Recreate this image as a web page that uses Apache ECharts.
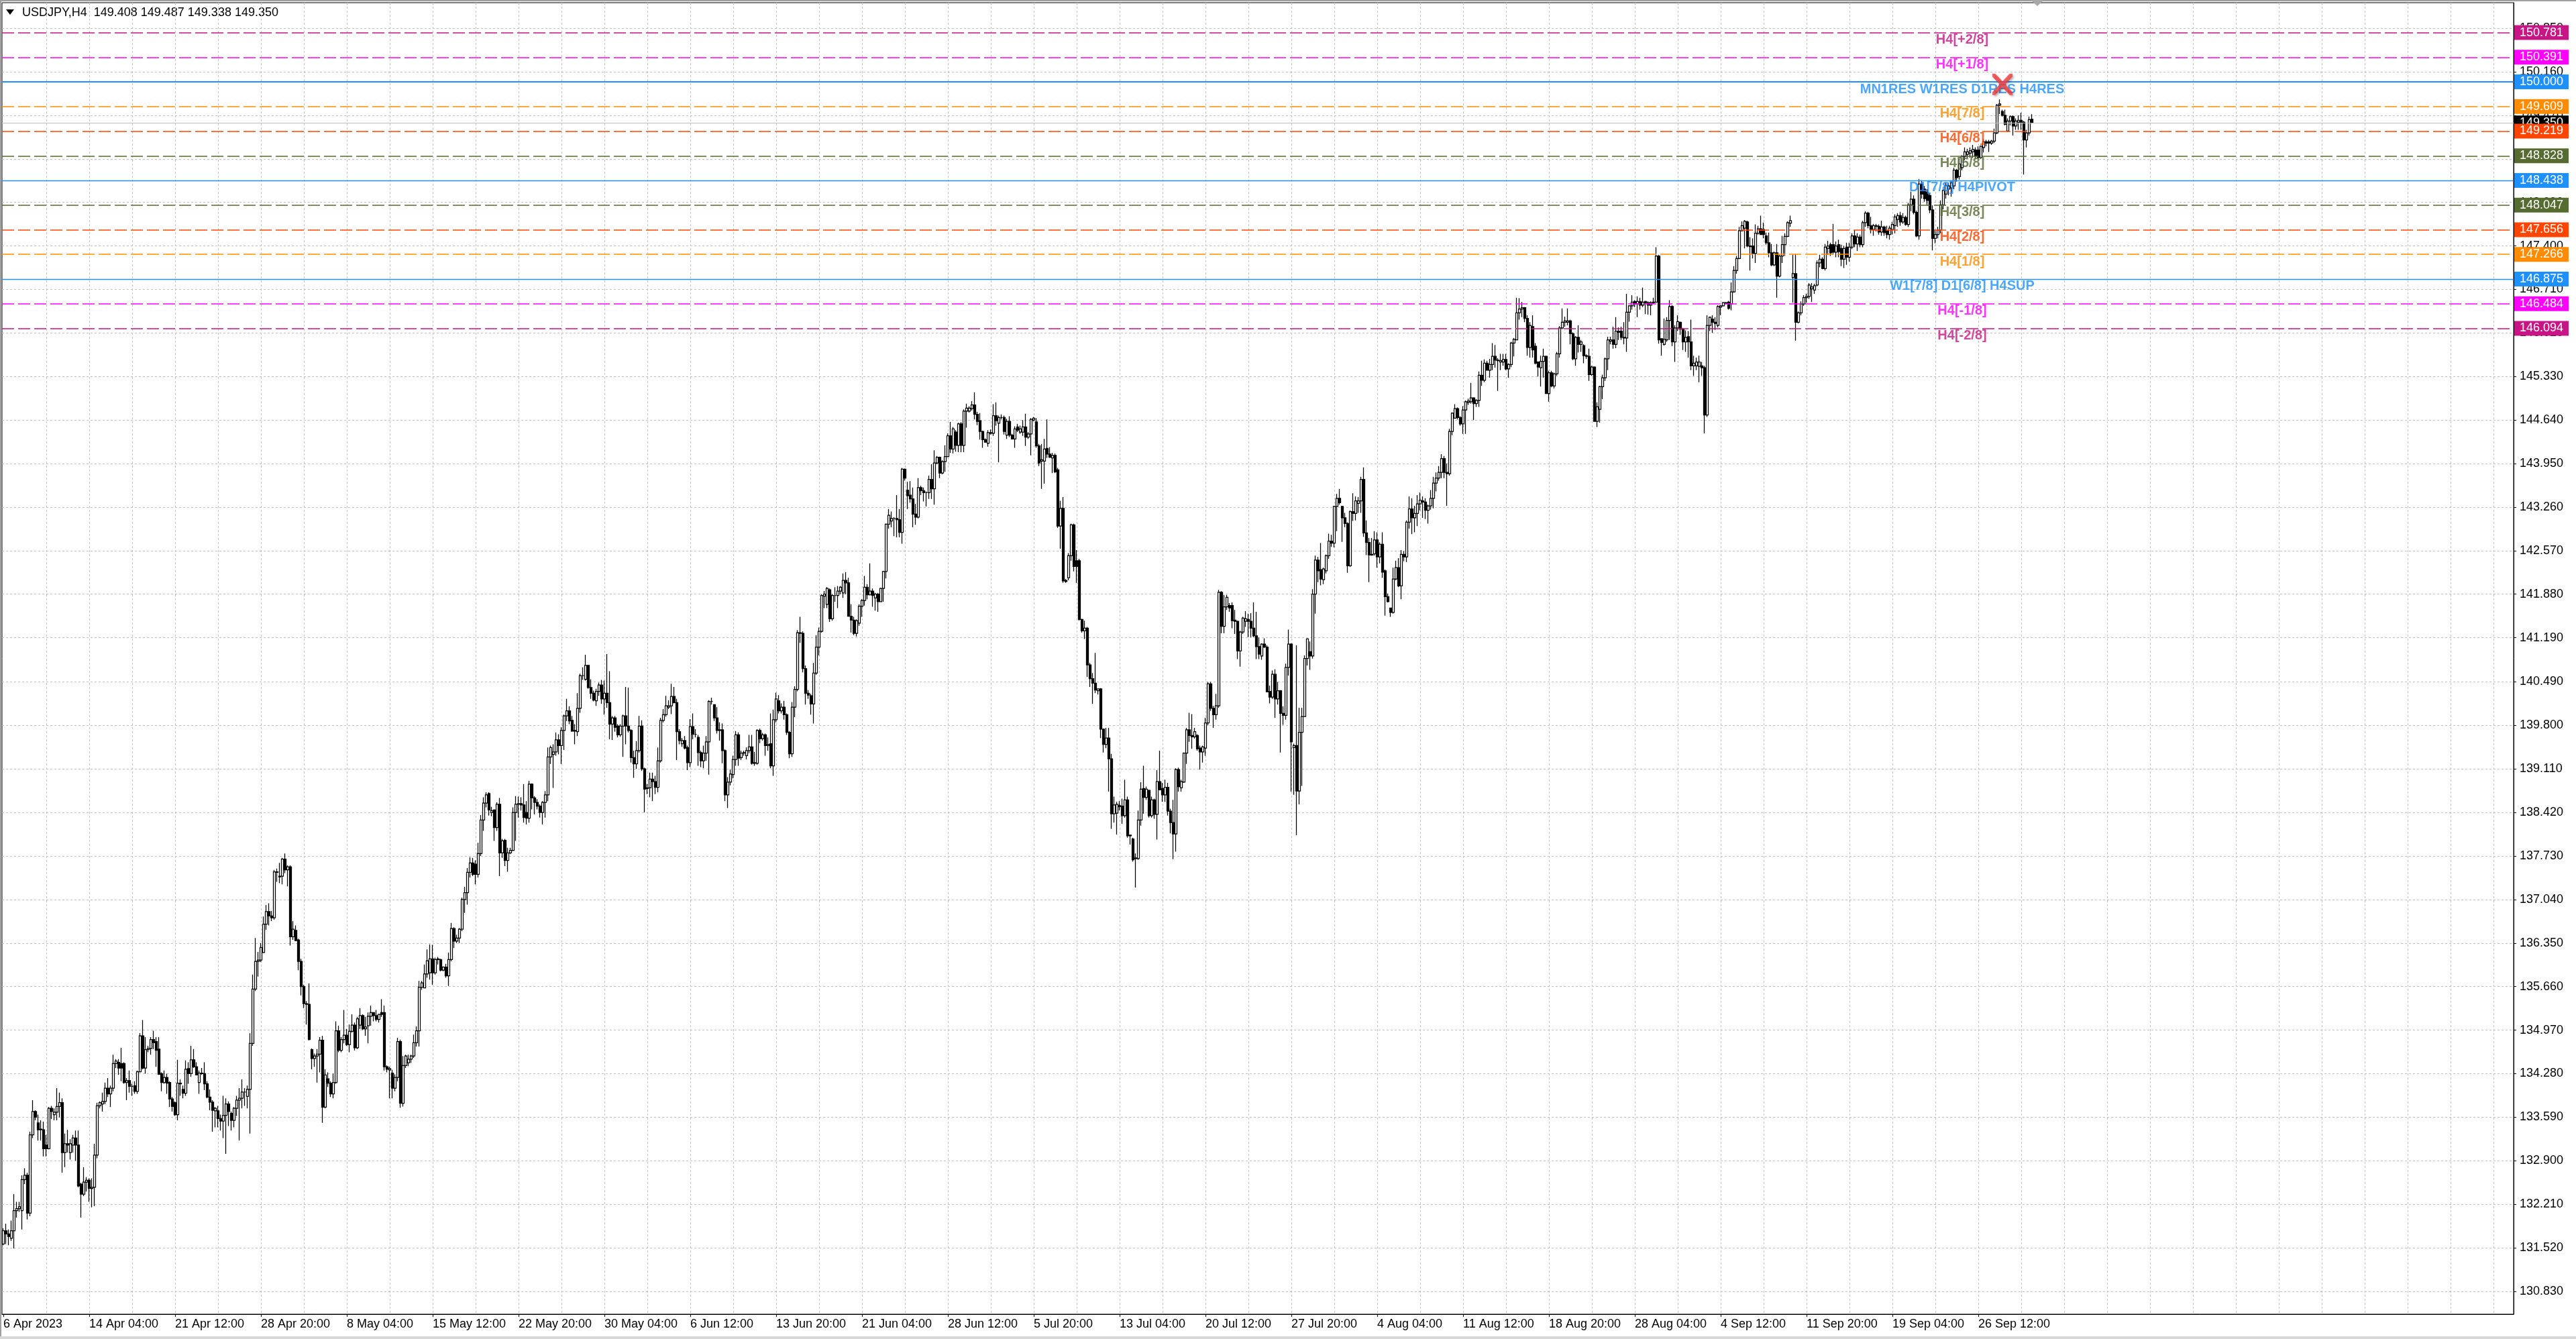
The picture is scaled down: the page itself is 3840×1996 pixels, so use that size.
<!DOCTYPE html>
<html><head><meta charset="utf-8">
<script src="https://cdn.jsdelivr.net/npm/echarts@6.0.0/dist/echarts.min.js"></script>
<style>html,body{margin:0;padding:0;background:#fff;}#chart{width:3840px;height:1996px;}</style>
</head><body><div id="chart"></div>
<script>
// ---------- DATA ----------
const symbolName = 'USDJPY';
const timeframe = 'H4';
// H4 bars, rows are [open, high, low, close]
const barsApr = [
[131.58,131.83,131.56,131.79],[131.79,131.90,131.58,131.74],[131.74,131.81,131.56,131.70],[131.67,131.95,131.63,131.79],[131.79,132.37,131.51,132.11],
[132.11,132.25,132.00,132.14],[132.14,132.25,132.09,132.17],[132.11,132.67,131.81,132.60],[132.60,132.78,132.53,132.67],[132.67,132.71,131.97,132.07],
[132.07,133.36,132.02,133.31],[133.31,133.86,133.26,133.68],[133.68,133.70,133.54,133.59],[133.50,133.63,133.22,133.39],[133.39,133.54,133.22,133.40],
[133.39,133.52,132.97,133.09],[133.15,133.31,132.97,133.09],[133.09,133.75,133.08,133.73],[133.73,133.77,133.56,133.68],[133.63,133.73,133.54,133.67],
[133.67,134.05,133.54,133.76],[133.76,133.98,133.59,133.82],[133.82,133.89,132.71,133.03],[133.03,133.33,132.80,133.17],[133.17,133.39,133.03,133.15],
[133.03,133.24,132.92,133.17],[133.15,133.31,133.03,133.26],[133.26,133.38,132.90,133.15],[133.15,133.38,132.48,132.50],[132.53,132.55,132.00,132.37],
[132.37,132.80,132.34,132.56],[132.56,132.64,132.41,132.59],[132.59,132.62,132.25,132.46],[132.46,132.62,132.16,132.48],[132.48,133.17,132.18,132.99],
[132.99,133.82,132.94,133.77],[133.77,133.84,133.73,133.82],[133.80,133.98,133.68,133.84],[133.84,134.14,133.80,134.05],[134.05,134.21,133.91,133.96],
[133.96,134.09,133.75,134.05],[134.05,134.58,134.00,134.44],[134.44,134.51,134.37,134.48],[134.46,134.51,134.26,134.37],[134.44,134.69,134.16,134.37],
[134.44,134.46,134.12,134.14],[134.14,134.21,133.86,134.17],[134.17,134.33,133.98,134.08],[134.08,134.12,133.93,134.08],[134.09,134.16,133.96,134.00],
[134.00,134.33,133.96,134.31],[134.31,134.92,134.30,134.88],[134.88,135.13,134.35,134.37],[134.37,134.86,134.28,134.66],[134.66,134.72,134.62,134.68],
[134.68,134.86,134.58,134.82],[134.82,134.96,134.67,134.77],[134.79,134.86,134.39,134.65],[134.67,134.86,134.26,134.27],[134.28,134.30,134.00,134.14],
[134.14,134.33,134.12,134.22],[134.22,134.28,133.96,134.13],[134.14,134.16,133.75,133.88],[133.88,133.91,133.68,133.76],[133.82,133.84,133.61,133.63],
[133.63,134.50,133.54,134.13],[134.13,134.19,133.93,134.12],[134.03,134.09,133.89,133.97],[133.97,134.49,133.93,134.35],[134.36,134.46,134.12,134.28],
[134.28,134.72,134.23,134.50],[134.50,134.67,134.37,134.39],[134.39,134.46,134.26,134.26],[134.14,134.33,133.96,134.29],[134.29,134.37,134.26,134.28],
[134.28,134.46,134.02,134.12],[134.12,134.16,133.89,133.91],[133.91,134.03,133.70,133.83],[133.83,133.86,133.36,133.70],[133.69,133.75,133.43,133.73],
[133.69,133.77,133.43,133.57],[133.57,133.63,133.38,133.53],[133.53,133.93,133.26,133.62],[133.62,133.89,133.01,133.80],[133.80,133.84,133.45,133.68],
[133.65,133.68,133.38,133.54],[133.54,133.75,133.43,133.73],[133.73,133.93,133.61,133.86],[133.86,134.05,133.22,133.89],[133.89,134.19,133.73,133.99],
[133.99,134.05,133.77,133.99],[133.92,134.09,133.73,134.03],[134.03,134.92,133.33,134.76],[134.76,135.85,134.72,135.62],[135.62,136.43,135.59,136.06],
[136.06,136.21,135.82,136.08],[136.08,136.35,136.05,136.28]
];
const barsMay = [
[136.20,136.77,136.19,136.65],[136.65,136.95,136.56,136.85],[136.85,136.98,136.63,136.78],[136.78,136.86,136.70,136.75],[136.75,137.51,136.72,137.48],
[137.48,137.53,137.32,137.47],[137.41,137.62,137.30,137.40],[137.41,137.70,137.28,137.68],[137.68,137.77,137.46,137.51],[137.51,137.58,137.25,137.56],
[137.56,137.58,136.31,136.45],[136.45,136.70,136.40,136.57],[136.55,136.63,136.38,136.39],[136.40,136.42,135.92,136.06],[136.06,136.10,135.52,135.66],
[135.66,135.69,135.32,135.39],[135.39,135.43,135.06,135.38],[135.38,135.71,134.81,134.82],[134.66,134.68,134.35,134.52],[134.52,134.60,134.39,134.56],
[134.56,134.67,134.14,134.59],[134.59,134.86,134.30,134.81],[134.81,134.88,133.50,133.75],[133.75,134.35,133.73,134.26],[134.20,134.30,134.07,134.13],
[134.13,134.16,133.91,133.96],[133.96,134.28,133.89,134.14],[134.14,135.11,134.12,134.96],[134.96,135.04,134.62,134.65],[134.65,134.86,134.62,134.82],
[134.82,135.29,134.76,134.89],[134.89,134.99,134.72,134.74],[134.74,135.06,134.62,134.95],[134.95,135.22,134.93,135.05],[135.05,135.09,134.65,134.69],
[134.69,135.18,134.67,135.15],[135.05,135.32,134.99,135.20],[135.20,135.22,134.97,134.99],[134.99,135.18,134.88,135.02],[135.04,135.25,134.76,135.19],
[135.19,135.36,135.04,135.25],[135.25,135.25,135.11,135.20],[135.20,135.29,135.11,135.14],[135.14,135.23,135.09,135.22],[135.25,135.46,135.18,135.22],
[135.25,135.36,134.33,134.39],[134.39,134.41,134.30,134.35],[134.34,134.39,133.89,134.36],[134.29,134.34,133.89,134.05],[134.05,134.27,134.00,134.22],
[134.22,134.85,134.16,134.79],[134.79,134.82,133.74,133.81],[133.81,134.56,133.76,134.41],[134.41,134.58,134.37,134.56],[134.45,134.58,134.40,134.51],
[134.51,134.58,134.45,134.56],[134.56,134.90,134.53,134.77],[134.77,135.03,134.71,134.96],[134.96,135.75,134.71,135.65],[135.65,135.75,135.61,135.72],
[135.64,136.01,135.64,135.86],[135.86,136.25,135.80,136.07],[135.88,136.33,135.77,136.10],[136.10,136.32,135.69,135.88],[135.88,136.12,135.85,136.09],
[136.10,136.13,136.01,136.09],[136.09,136.10,135.90,135.92],[135.92,135.98,135.90,135.97],[135.97,136.02,135.80,135.83],[135.83,136.20,135.67,136.09],
[136.09,136.67,136.06,136.58],[136.58,136.60,136.27,136.38],[136.38,136.48,136.35,136.43],[136.43,136.59,136.35,136.57],[136.57,137.07,136.54,137.04],
[137.04,137.24,136.83,137.15],[137.15,137.54,136.96,137.47],[137.47,137.71,137.39,137.62],[137.62,137.70,137.41,137.44],[137.60,137.66,137.28,137.44],
[137.44,137.94,137.39,137.77],[137.77,138.38,137.73,138.30],[138.30,138.66,138.13,138.57],[138.57,138.74,138.50,138.70],[138.72,138.74,138.37,138.46],
[138.42,138.51,138.36,138.45],[138.46,138.47,137.97,138.18],[138.18,138.58,138.13,138.55],[138.55,138.65,137.41,137.78],[137.78,138.00,137.70,137.97],
[137.98,138.00,137.57,137.66],[137.66,137.86,137.48,137.78],[137.78,137.86,137.76,137.82],[137.82,138.50,137.81,138.42],[138.42,138.68,137.97,138.55],
[138.55,138.67,138.34,138.56],[138.56,138.66,138.45,138.54],[138.54,138.87,138.26,138.34],[138.42,138.60,138.23,138.33],[138.33,138.92,138.26,138.87],
[138.87,138.88,138.47,138.65],[138.65,138.68,138.39,138.58],[138.58,138.63,138.47,138.52],[138.52,138.55,138.34,138.42],[138.42,138.60,138.23,138.58],
[138.58,138.76,138.34,138.70],[138.70,139.45,138.60,139.30],[139.30,139.48,139.19,139.45],[139.34,139.50,138.81,139.38],[139.38,139.69,139.32,139.57],
[139.57,139.66,139.34,139.48],[139.48,139.77,139.19,139.72],[139.72,139.97,139.41,139.95],[139.95,140.22,139.87,140.03],[140.03,140.10,139.82,139.87],
[139.88,139.95,139.70,139.71],[139.71,139.82,139.50,139.72],[139.70,140.31,139.63,140.07],[140.07,140.62,140.00,140.59],[140.59,140.72,140.52,140.59],
[140.53,140.92,140.51,140.75],[140.75,140.76,140.38,140.40],[140.40,140.53,140.22,140.31],[140.31,140.35,140.18,140.20],[140.19,140.38,140.11,140.34],
[140.34,140.48,140.27,140.44],[140.44,140.52,140.14,140.22],[140.22,140.51,139.97,140.31],[140.31,140.93,140.08,140.16],[140.16,140.66,139.58,139.82],
[139.82,139.95,139.57,139.92],[139.92,139.95,139.70,139.77],[139.79,139.82,139.61,139.65],[139.65,139.82,139.62,139.79],[139.79,139.97,139.30,139.95],
[139.95,140.41,139.50,139.79],[139.79,140.40,139.69,139.72],[139.72,139.74,139.21,139.29]
];
const barsJun = [
[139.29,139.40,138.97,139.19],[139.19,139.55,139.11,139.40],[139.40,139.95,139.37,139.79],[139.79,139.88,139.08,139.11],[139.11,139.13,138.42,138.79],
[138.80,138.87,138.71,138.81],[138.81,139.05,138.66,138.95],[138.95,139.05,138.60,138.91],[138.91,139.00,138.71,138.82],[138.82,139.45,138.74,139.24],
[139.24,139.92,139.21,139.88],[139.88,140.06,139.85,139.97],[139.97,140.27,139.94,140.11],[140.09,140.20,140.06,140.11],[140.11,140.46,139.98,140.26],
[140.26,140.41,140.15,140.16],[140.16,140.22,139.25,139.70],[139.70,139.74,139.50,139.56],[139.51,139.60,139.46,139.56],[139.56,139.63,139.42,139.44],
[139.45,139.48,139.09,139.21],[139.21,139.90,139.14,139.78],[139.78,139.99,139.58,139.66],[139.66,139.74,139.61,139.66],[139.61,139.65,139.16,139.37],
[139.37,139.40,139.14,139.24],[139.24,139.48,139.12,139.36],[139.36,139.63,139.24,139.54],[139.54,140.20,139.02,140.18],[140.18,140.24,140.13,140.18],
[140.13,140.13,139.87,139.92],[139.92,140.09,139.67,139.72],[139.72,139.85,139.56,139.73],[139.73,139.83,139.20,139.40],[139.40,139.42,138.60,138.70],
[138.70,138.98,138.49,138.90],[138.90,139.10,138.85,139.03],[139.02,139.32,138.96,139.26],[139.26,139.71,139.16,139.65],[139.65,139.69,139.16,139.28],
[139.29,139.40,139.25,139.36],[139.36,139.40,139.32,139.37],[139.32,139.45,139.26,139.40],[139.40,139.65,139.36,139.46],[139.46,139.65,139.18,139.20],
[139.20,139.38,139.16,139.21],[139.20,139.74,139.18,139.72],[139.72,139.75,139.52,139.59],[139.59,139.68,139.56,139.65],[139.65,139.67,139.32,139.48],
[139.48,139.61,139.40,139.50],[139.51,139.99,139.12,139.16],[139.16,140.05,139.00,139.89],[139.89,140.32,139.85,140.22],[140.19,140.28,139.99,140.03],
[140.03,140.15,139.99,140.09],[140.09,140.19,139.89,139.97],[139.97,139.99,139.65,139.69],[139.69,139.71,139.28,139.35],[139.35,140.17,139.30,140.09],
[140.09,140.42,139.93,140.37],[140.37,141.31,140.34,141.27],[141.27,141.52,141.11,141.26],[141.26,141.29,140.64,140.70],[140.70,140.75,140.13,140.31],
[140.31,140.36,140.22,140.28],[140.27,140.30,139.97,140.14],[140.14,140.79,139.83,140.63],[140.63,141.23,140.60,141.04],[141.04,141.35,140.91,141.29],
[141.29,141.88,141.27,141.86],[141.85,141.93,141.66,141.88],[141.72,141.99,141.66,141.97],[141.95,141.97,141.44,141.49],[141.49,141.88,141.46,141.86],
[141.86,141.99,141.76,141.86],[141.86,142.01,141.66,141.93],[141.93,142.01,141.88,141.99],[141.90,142.21,141.82,142.10],[142.10,142.23,141.88,142.06],
[142.06,142.14,141.53,141.53],[141.53,141.72,141.27,141.47],[141.47,141.52,141.23,141.26],[141.26,141.48,141.21,141.46],[141.42,141.72,141.38,141.69],
[141.69,141.80,141.52,141.78],[141.78,142.17,141.70,141.99],[141.99,142.04,141.80,141.87],[141.87,142.37,141.86,141.93],[141.93,141.97,141.68,141.86],
[141.82,141.90,141.62,141.88],[141.88,141.90,141.60,141.76],[141.76,141.98,141.76,141.97],[141.97,142.25,141.76,142.24],[142.24,143.00,142.13,142.99],
[142.99,143.23,142.92,143.13],[143.04,143.19,142.94,143.08],[143.08,143.10,142.80,143.08],[143.08,143.45,142.78,143.06],[143.06,143.23,142.78,142.86],
[142.86,143.88,142.68,143.86],[143.86,143.87,143.68,143.72],[143.53,143.66,143.23,143.44],[143.45,143.67,143.33,143.39],[143.39,143.57,142.94,143.15],
[143.15,143.31,142.98,143.10],[143.10,143.72,143.08,143.57],[143.57,143.60,143.45,143.52],[143.52,143.57,143.35,143.49],[143.49,143.51,143.27,143.49],
[143.49,143.76,143.39,143.70],[143.70,143.94,143.39,143.55],[143.55,144.16,143.30,143.96],[143.96,144.07,143.94,144.05],[144.05,144.06,143.72,143.80],
[143.80,144.00,143.78,143.98],[143.98,144.24,143.82,144.06],[144.06,144.43,144.05,144.39],[144.39,144.61,144.12,144.18],[144.18,144.53,144.11,144.50],
[144.45,144.48,144.14,144.24],[144.24,144.60,144.13,144.58],[144.58,144.61,144.13,144.24],[144.24,144.81,144.13,144.78],[144.78,144.90,144.52,144.83],
[144.78,144.86,144.76,144.83],[144.82,144.94,144.79,144.88],[144.88,145.08,144.65,144.73],[144.73,144.77,144.56,144.62],[144.63,144.75,144.33,144.46],
[144.46,144.47,144.20,144.33],[144.33,144.35,144.28,144.29]
];
const barsJul = [
[144.27,144.48,144.22,144.44],[144.44,144.49,144.41,144.43],[144.43,144.89,144.39,144.71],[144.71,144.92,144.55,144.63],[144.59,144.71,143.97,144.68],
[144.68,144.73,144.65,144.68],[144.68,144.71,144.41,144.46],[144.40,144.66,144.34,144.62],[144.62,144.70,144.37,144.40],[144.40,144.42,144.33,144.34],
[144.34,144.54,144.20,144.50],[144.53,144.58,144.45,144.48],[144.45,144.55,144.42,144.50],[144.45,144.64,144.39,144.53],[144.53,144.74,144.23,144.37],
[144.37,144.45,144.34,144.42],[144.42,144.67,144.08,144.65],[144.64,144.69,144.62,144.67],[144.61,144.67,144.20,144.23],[144.23,144.26,143.91,143.96],
[143.99,144.26,143.55,144.01],[143.99,144.34,143.63,144.18],[144.19,144.65,144.04,144.10],[144.10,144.21,144.04,144.05],[144.04,144.12,143.80,144.08],
[144.08,144.11,143.80,143.82],[143.85,143.88,142.93,142.96],[142.96,143.36,142.60,143.24],[143.24,143.42,142.06,142.09],[142.10,142.12,142.06,142.08],
[142.14,142.53,142.10,142.49],[142.49,143.00,142.41,142.98],[142.98,143.00,142.24,142.32],[142.41,142.58,142.06,142.32],[142.41,142.44,141.46,141.48],
[141.48,141.49,141.27,141.30],[141.30,141.46,141.17,141.34],[141.34,141.36,140.57,140.76],[140.76,140.79,140.41,140.54],[140.54,140.63,140.14,140.47],
[140.47,140.95,140.31,140.36],[140.35,140.38,140.29,140.38],[140.38,140.39,139.60,139.74],[139.74,139.75,139.37,139.50],[139.50,139.76,139.44,139.60],
[139.60,139.76,138.75,139.27],[139.27,139.35,138.16,138.40],[138.40,138.67,138.26,138.54],[138.41,138.59,138.07,138.55],[138.53,138.60,138.45,138.51],
[138.52,138.64,138.24,138.37],[138.37,138.94,138.34,138.62],[138.62,138.67,138.02,138.05],[138.05,138.07,137.91,138.06],[138.00,138.02,137.64,137.67],
[137.69,137.77,137.23,137.70],[137.69,138.45,137.67,138.30],[138.30,138.90,138.21,138.79],[138.80,139.16,138.40,138.66],[138.66,138.83,138.62,138.79],
[138.77,138.78,138.34,138.37],[138.37,138.67,138.34,138.62],[138.62,138.64,138.32,138.39],[138.39,139.09,137.99,138.91],[138.91,139.40,138.77,138.78],
[138.80,138.89,138.59,138.70],[138.70,138.94,138.59,138.82],[138.82,138.89,138.37,138.44],[138.44,138.48,138.09,138.26],[138.26,138.62,137.68,138.08],
[138.08,139.12,137.80,139.10],[139.10,139.13,138.75,138.83],[138.81,138.94,138.75,138.91],[138.90,139.37,138.89,139.36],[139.36,139.76,139.19,139.73],
[139.73,140.00,139.54,139.64],[139.64,139.98,139.43,139.62],[139.62,139.76,139.59,139.70],[139.64,139.66,139.40,139.43],[139.44,139.48,139.10,139.38],
[139.38,139.48,139.21,139.46],[139.44,139.92,139.32,139.84],[139.84,140.49,139.80,140.46],[140.46,140.49,140.03,140.07],[140.07,140.11,139.76,139.97],
[139.97,140.30,139.89,140.11],[140.11,141.95,140.08,141.91],[141.91,141.93,141.26,141.37],[141.37,141.87,141.26,141.68],[141.68,141.87,141.63,141.83],
[141.70,141.74,141.60,141.66],[141.70,141.75,141.34,141.46],[141.47,141.63,141.25,141.45],[141.45,141.46,140.85,140.98],[140.98,141.30,140.73,141.28],
[141.28,141.52,141.25,141.50],[141.45,141.61,141.36,141.49],[141.48,141.57,141.20,141.45],[141.45,141.58,141.20,141.34],[141.34,141.75,141.20,141.22],
[141.22,141.60,140.85,141.05],[141.05,141.19,140.85,140.93],[140.90,141.10,140.84,141.09],[141.09,141.18,141.03,141.04],[141.04,141.07,140.33,140.33],
[140.34,140.43,140.15,140.25],[140.25,140.67,140.22,140.61],[140.61,140.69,139.92,140.22],[140.22,140.49,140.13,140.35],[140.35,140.36,139.37,139.99],
[139.99,140.10,139.81,139.96],[139.96,140.78,139.89,140.72],[140.72,141.32,140.59,141.09],[141.09,141.10,138.75,139.54],[139.45,139.51,138.70,139.48],
[139.48,141.07,138.06,138.76],[138.76,140.08,138.55,139.69],[139.69,140.08,138.84,139.94],[139.94,140.91,139.94,140.86],[140.86,141.18,140.75,141.17],
[140.97,141.13,140.68,140.90],[140.90,141.96,140.86,141.88],[141.88,142.49,141.57,142.42],[142.42,142.47,142.07,142.25],[142.27,142.69,142.02,142.12],
[142.11,142.30,142.04,142.28]
];
const barsAug = [
[142.25,142.51,142.21,142.49],[142.49,142.84,142.44,142.72],[142.72,142.82,142.63,142.69],[142.69,143.28,142.62,143.27],[143.27,143.47,142.88,143.40],
[143.40,143.55,143.30,143.33],[143.27,143.28,142.71,143.09],[143.09,143.17,142.94,143.00],[143.00,143.02,142.22,142.33],[142.33,143.21,142.31,143.19],
[143.19,143.48,143.04,143.16],[143.16,143.43,143.05,143.36],[143.32,143.42,143.17,143.36],[143.36,143.74,143.17,143.70],[143.70,143.89,142.79,142.85],
[142.85,143.05,142.50,142.70],[142.70,142.77,142.07,142.50],[142.51,142.77,142.49,142.50],[142.52,142.88,142.49,142.74],[142.74,142.86,142.30,142.47],
[142.47,142.70,142.37,142.67],[142.67,142.86,142.14,142.23],[142.25,142.27,141.54,141.84],[141.84,141.89,141.75,141.76],[141.66,141.66,141.52,141.59],
[141.59,142.30,141.57,142.12],[142.12,142.41,142.10,142.30],[142.30,142.45,141.99,142.01],[142.01,142.58,141.80,142.51],[142.51,142.56,142.40,142.47],
[142.47,143.05,142.39,143.02],[143.02,143.43,142.92,143.23],[143.23,143.40,142.83,143.09],[143.09,143.28,142.86,143.16],[143.16,143.45,142.96,143.31],
[143.31,143.49,143.21,143.37],[143.36,143.43,143.09,143.34],[143.34,143.40,143.07,143.21],[143.21,143.30,143.00,143.28],[143.28,143.53,143.22,143.40],
[143.40,143.74,143.24,143.64],[143.64,143.81,143.51,143.72],[143.72,143.91,143.68,143.81],[143.81,144.10,143.72,144.03],[144.03,144.07,143.72,143.81],
[143.81,143.95,143.28,143.79],[143.79,144.50,143.76,144.46],[144.46,144.76,144.40,144.75],[144.67,144.89,144.67,144.82],[144.82,144.84,144.65,144.68],
[144.68,144.70,144.55,144.58],[144.58,144.86,144.42,144.80],[144.80,144.95,144.42,144.93],[144.92,144.98,144.88,144.94],[144.93,145.23,144.90,144.99],
[144.99,145.00,144.64,144.90],[144.90,144.97,144.85,144.95],[144.95,145.41,144.85,145.35],[145.35,145.58,145.18,145.27],[145.27,145.60,145.24,145.54],
[145.54,145.58,145.43,145.43],[145.43,145.61,145.31,145.52],[145.52,145.86,145.43,145.65],[145.65,145.83,145.47,145.59],[145.59,145.62,145.10,145.58],
[145.56,145.69,145.43,145.58],[145.56,145.69,145.50,145.60],[145.60,145.69,145.43,145.45],[145.45,145.54,145.31,145.52],[145.52,145.88,145.48,145.86],
[145.86,145.94,145.65,145.92],[145.91,146.58,145.91,146.34],[146.34,146.57,146.23,146.40],[146.40,146.51,146.27,146.42],[146.42,146.43,146.19,146.25],
[146.25,146.30,145.66,145.79],[145.79,146.19,145.63,146.14],[146.12,146.30,145.63,145.75],[145.81,145.86,145.52,145.54],[145.56,145.57,145.33,145.48],
[145.47,145.66,145.17,145.57],[145.57,145.77,145.31,145.65],[145.65,145.66,145.06,145.06],[145.06,145.42,144.93,145.39],[145.39,145.42,145.16,145.18],
[145.18,145.39,145.14,145.37],[145.37,145.72,145.34,145.69],[145.69,146.13,145.63,146.10],[146.10,146.41,146.08,146.19],[146.19,146.28,146.12,146.21],
[146.19,146.41,146.14,146.21],[146.21,146.23,145.84,146.01],[146.01,146.03,145.59,145.61],[145.61,145.97,145.50,145.95],[145.95,146.14,145.71,145.84],
[145.84,145.91,145.72,145.88],[145.82,145.84,145.54,145.66],[145.66,145.68,145.61,145.65],[145.65,145.77,145.26,145.36],[145.36,145.50,145.34,145.48],
[145.48,145.49,144.62,144.62],[144.62,144.92,144.53,144.85],[144.81,145.18,144.60,145.17],[145.17,145.36,144.97,145.31],[145.31,145.63,145.26,145.61],
[145.61,145.96,145.43,145.91],[145.89,145.96,145.84,145.91],[145.91,146.12,145.77,145.84],[145.84,146.27,145.78,146.05],[146.05,146.11,145.91,146.03],
[146.05,146.12,145.91,145.95],[145.95,146.19,145.84,145.94],[145.94,146.64,145.72,146.35],[146.35,146.46,146.20,146.45],[146.45,146.62,146.39,146.51],
[146.52,146.54,146.43,146.48],[146.48,146.60,146.27,146.52],[146.52,146.58,146.39,146.46],[146.46,146.74,146.43,146.51],[146.52,146.53,146.32,146.50],
[146.50,146.52,146.31,146.46],[146.46,146.52,146.30,146.50],[146.50,146.58,146.48,146.51],[146.51,147.38,146.50,147.24],[147.24,147.26,145.85,145.91],
[145.93,145.93,145.66,145.87],[145.84,146.25,145.82,145.92],[145.91,146.27,145.88,146.22],[146.22,146.54,145.91,146.44],[146.44,146.46,145.81,145.88],
[145.88,146.14,145.56,146.10],[146.10,146.30,146.05,146.20],[146.19,146.20,145.99,146.08],[146.08,146.10,145.75,145.88],[145.88,146.06,145.72,145.95],
[145.96,146.05,145.63,145.88],[145.88,146.23,145.43,145.50],[145.50,145.66,145.34,145.54]
];
const barsSep = [
[145.50,145.63,145.43,145.56],[145.49,145.66,145.24,145.56],[145.50,145.56,145.34,145.47],[145.47,145.50,144.43,144.72],[144.72,146.30,144.69,146.14],
[146.14,146.28,146.05,146.27],[146.24,146.30,146.02,146.19],[146.19,146.27,146.07,146.17],[146.14,146.46,146.11,146.44],[146.43,146.46,146.30,146.45],
[146.45,146.51,146.44,146.50],[146.50,146.51,146.47,146.49],[146.51,146.53,146.39,146.41],[146.48,146.82,146.38,146.67],[146.67,147.08,146.66,147.01],
[147.01,147.24,146.96,147.20],[147.20,147.70,147.19,147.64],[147.64,147.79,147.63,147.72],[147.68,147.81,147.36,147.79],[147.78,147.80,147.38,147.40],
[147.40,147.54,147.01,147.39],[147.40,147.52,147.20,147.28],[147.28,147.74,147.13,147.60],[147.60,147.72,147.58,147.67],[147.67,147.88,147.58,147.58],
[147.66,147.77,147.52,147.58],[147.56,147.61,147.42,147.45],[147.45,147.61,147.22,147.29],[147.29,147.43,147.08,147.10],[147.10,147.31,147.08,147.29],
[147.29,147.43,146.58,146.92],[146.92,147.26,146.90,147.24],[147.24,147.56,147.13,147.42],[147.42,147.60,147.24,147.55],[147.55,147.79,147.54,147.77],
[147.76,147.88,147.70,147.80],[146.90,147.26,146.50,146.96],[146.96,147.27,145.90,146.19],[146.19,146.36,146.17,146.34],[146.34,146.52,146.30,146.48],
[146.48,146.62,146.45,146.58],[146.58,146.64,146.50,146.60],[146.60,146.81,146.56,146.78],[146.72,146.81,146.51,146.75],[146.70,146.80,146.64,146.77],
[146.78,147.17,146.76,147.13],[147.13,147.26,147.06,147.19],[147.19,147.22,147.03,147.04],[147.04,147.43,147.01,147.38],[147.36,147.48,147.26,147.40],
[147.42,147.45,147.24,147.29],[147.42,147.75,147.26,147.30],[147.30,147.47,147.22,147.40],[147.42,147.50,147.22,147.31],[147.36,147.42,147.08,147.19],
[147.19,147.40,147.05,147.36],[147.38,147.45,147.10,147.22],[147.22,147.45,147.15,147.38],[147.38,147.60,147.35,147.56],[147.56,147.65,147.38,147.43],
[147.43,147.60,147.32,147.54],[147.54,147.58,147.38,147.42],[147.42,147.80,147.38,147.77],[147.77,147.95,147.70,147.92],[147.92,147.94,147.68,147.72],
[147.72,147.86,147.60,147.66],[147.66,147.75,147.56,147.72],[147.72,147.75,147.63,147.71],[147.71,147.74,147.58,147.62],[147.62,147.80,147.56,147.70],
[147.70,147.72,147.56,147.61],[147.64,147.72,147.52,147.58],[147.58,147.72,147.50,147.68],[147.66,147.78,147.58,147.74],[147.72,147.90,147.60,147.86],
[147.82,147.92,147.70,147.88],[147.88,147.94,147.72,147.78],[147.78,147.92,147.75,147.85],[147.85,147.88,147.72,147.74],[147.74,148.08,147.70,148.05],
[148.05,148.26,147.95,148.14],[148.14,148.20,147.90,147.93],[147.93,147.96,147.54,147.56],[147.56,148.46,147.50,148.38],[148.38,148.44,148.15,148.22],
[148.30,148.35,148.10,148.15],[148.25,148.30,148.05,148.12],[148.20,148.24,147.92,147.97],[147.97,148.04,147.33,147.52],[147.52,147.66,147.44,147.58],
[147.58,147.70,147.52,147.65],[147.65,148.12,147.60,148.05],[148.05,148.30,147.98,148.28],[148.22,148.40,148.15,148.36],[148.30,148.40,148.20,148.35],
[148.32,148.44,148.18,148.40],[148.35,148.64,148.30,148.60],[148.60,148.62,148.42,148.48],[148.50,148.78,148.45,148.70],[148.64,148.84,148.60,148.82],
[148.82,148.96,148.76,148.89],[148.85,148.94,148.80,148.89],[148.87,148.96,148.80,148.91],[148.89,149.00,148.80,148.93],[148.92,148.96,148.78,148.82],
[148.92,148.98,148.78,148.80],[148.80,148.99,148.78,148.98],[148.96,149.09,148.88,149.05],[149.05,149.08,148.98,149.03],[149.05,149.08,148.89,149.03],
[149.03,149.08,149.00,149.06],[149.06,149.26,149.03,149.19],[149.19,149.65,149.17,149.63],[149.63,149.72,149.49,149.65],[149.53,149.56,149.45,149.47],
[149.47,149.56,149.31,149.33],[149.22,149.42,149.21,149.38],[149.38,149.47,149.31,149.45],[149.45,149.47,149.15,149.30],[149.30,149.42,149.24,149.38],
[149.36,149.47,149.24,149.39],[149.39,149.51,149.24,149.36],[149.36,149.38,148.53,149.08],[149.08,149.24,148.96,149.19],[149.19,149.45,149.15,149.40],
[149.408,149.487,149.338,149.350]
];
// time-axis tick labels (one every 32 H4 bars)
const timeLabels = ['6 Apr 2023','14 Apr 04:00','21 Apr 12:00','28 Apr 20:00','8 May 04:00','15 May 12:00','22 May 20:00','30 May 04:00',
  '6 Jun 12:00','13 Jun 20:00','21 Jun 04:00','28 Jun 12:00','5 Jul 20:00','13 Jul 04:00','20 Jul 12:00','27 Jul 20:00',
  '4 Aug 04:00','11 Aug 12:00','18 Aug 20:00','28 Aug 04:00','4 Sep 12:00','11 Sep 20:00','19 Sep 04:00','26 Sep 12:00'];
// price-axis tick labels
const priceTicks = [150.850,150.160,149.470,148.780,148.090,147.400,146.710,146.020,145.330,144.640,143.950,143.260,142.570,
  141.880,141.190,140.490,139.800,139.110,138.420,137.730,137.040,136.350,135.660,134.970,134.280,133.590,132.900,132.210,131.520,130.830];
// horizontal levels
const levelValues = [150.781,150.391,150.000,149.609,149.219,148.828,148.438,148.047,147.656,147.266,146.875,146.484,146.094];
const levelNames = ['H4[+2/8]','H4[+1/8]','MN1RES W1RES D1RES H4RES','H4[7/8]','H4[6/8]','H4[5/8]','D1[7/8] H4PIVOT',
  'H4[3/8]','H4[2/8]','H4[1/8]','W1[7/8] D1[6/8] H4SUP','H4[-1/8]','H4[-2/8]'];
// signal marker (bar index, price)
const signalPoints = [[745, 149.96]];

// ---------- STYLE / LAYOUT ----------
const levelColors = ['#C71585','#FF00FF','#1E90FF','#FF8C00','#FF4500','#556B2F','#1E90FF','#556B2F','#FF4500','#FF8C00','#1E90FF','#FF00FF','#C71585'];
const levelSolid  = [false,false,true,false,false,false,true,false,false,false,true,false,false];
const levelWidth  = [1.6,1.6,2.2,1.6,1.6,1.6,1.4,1.6,1.6,1.6,1.4,1.6,1.6];
const FONT = '"Liberation Sans", Arial, sans-serif';
const SLOTS = 936;          // visible bar slots (incl. right shift)
const LABEL_SLOT = 730;     // where the level names are written
const GRID = {left: 3, right: 93, top: 4, bottom: 37};

const bars = [].concat(barsApr, barsMay, barsJun, barsJul, barsAug, barsSep);
const candleData = bars.map(b => [b[0], b[3], b[2], b[1]]);
const categories = Array.from({length: SLOTS}, (_, i) => String(i));
const last = bars[bars.length - 1];
const lastClose = last[3];
const titleText = symbolName + ',' + timeframe + '  ' + last.map(v => v.toFixed(3)).join(' ');

const isLabelIdx = i => i % 32 === 0 && (i / 32) < timeLabels.length;

const chart = echarts.init(document.getElementById('chart'), null, {renderer: 'canvas', width: 3840, height: 1996});

const lineData = [{
  yAxis: lastClose,
  lineStyle: {color: '#C0C0C0', type: 'solid', width: 1},
  label: {show: true, position: 'end', distance: 1, formatter: lastClose.toFixed(3), backgroundColor: '#000', color: '#fff',
          padding: [2, 8, 2, 8], fontSize: 18, fontFamily: FONT}
}].concat(levelValues.map((v, k) => ({
  yAxis: v,
  lineStyle: {color: levelColors[k], type: levelSolid[k] ? 'solid' : [18, 6], width: levelWidth[k], opacity: 1},
  label: {show: true, position: 'end', distance: 1, formatter: v.toFixed(3), backgroundColor: levelColors[k], color: '#fff',
          padding: [2, 8, 2, 8], fontSize: 18, fontFamily: FONT}
})));

const option = {
  animation: false,
  backgroundColor: '#fff',
  grid: Object.assign({show: true, borderColor: '#000', borderWidth: 1, backgroundColor: '#fff'}, GRID),
  xAxis: {
    type: 'category', data: categories, boundaryGap: true,
    axisLine: {show: true, lineStyle: {color: '#000', width: 1}},
    axisTick: {show: true, alignWithLabel: true, interval: i => isLabelIdx(i), length: 4, lineStyle: {color: '#000'}},
    axisLabel: {show: true, interval: i => isLabelIdx(i), formatter: (v, i) => timeLabels[Number(v) / 32] || '',
                align: 'left', margin: 6, fontSize: 18, color: '#000', fontFamily: FONT},
    splitLine: {show: true, alignWithLabel: true, interval: i => i % 16 === 0 && i > 0, lineStyle: {color: '#C0C0C0', type: [3, 3], width: 1}}
  },
  yAxis: {
    type: 'value', position: 'right', scale: true, min: 130.468, max: 151.255,
    axisLine: {show: true, lineStyle: {color: '#000', width: 1}},
    axisTick: {show: true, customValues: priceTicks, length: 4, lineStyle: {color: '#000'}},
    axisLabel: {show: true, customValues: priceTicks, formatter: v => v.toFixed(3), margin: 9, fontSize: 18, color: '#000', fontFamily: FONT},
    splitLine: {show: true, lineStyle: {color: '#C0C0C0', type: [3, 3], width: 1}}
  },
  series: [
    {
      type: 'candlestick', name: symbolName, data: candleData, barWidth: 3, large: false, progressive: 0,
      itemStyle: {color: '#FFFFFF', color0: '#000000', borderColor: '#000000', borderColor0: '#000000', borderColorDoji: '#000000', borderWidth: 1.25},
      emphasis: {disabled: true},
      markLine: {symbol: ['none', 'none'], silent: true, animation: false, precision: 3, data: lineData},
      z: 2
    },
    {
      type: 'scatter', silent: true, z: 5,
      data: levelValues.map((v, k) => ({value: [LABEL_SLOT, v], label: {color: levelColors[k]}})),
      symbolSize: 0.01, itemStyle: {color: 'rgba(0,0,0,0)'},
      label: {show: true, position: 'bottom', distance: 1, fontSize: 20, fontWeight: 'bold', fontFamily: FONT,
              formatter: p => levelNames[p.dataIndex]}
    },
    {
      type: 'scatter', silent: true, z: 6, data: signalPoints,
      symbol: 'path://M0,0 L2.8,0 L10,7.2 L17.2,0 L20,0 L20,2.8 L12.8,10 L20,17.2 L20,20 L17.2,20 L10,12.8 L2.8,20 L0,20 L0,17.2 L7.2,10 L0,2.8 Z',
      symbolSize: [30, 32],
      itemStyle: {color: '#F23B3B', shadowColor: 'rgba(0,0,0,0.35)', shadowBlur: 3, shadowOffsetX: 2, shadowOffsetY: 2}
    }
  ],
  graphic: [
    {type: 'rect', shape: {x: 0, y: 0, width: 3840, height: 2}, style: {fill: '#A0A0A0'}, silent: true},
    {type: 'rect', shape: {x: 0, y: 0, width: 2, height: 1996}, style: {fill: '#A0A0A0'}, silent: true},
    {type: 'rect', shape: {x: 0, y: 1992, width: 3840, height: 4}, style: {fill: '#D8D8D8'}, silent: true},
    {type: 'polygon', shape: {points: [[9, 14], [21, 14], [15, 22]]}, style: {fill: '#000'}, silent: true},
    {type: 'text', x: 33, y: 19, style: {text: titleText, font: '18px ' + FONT, fill: '#000', verticalAlign: 'middle'}, silent: true},
    {type: 'polygon', shape: {points: [[3027, 0], [3047, 0], [3037, 9]]}, style: {fill: '#A8A8A8'}, silent: true}
  ]
};
chart.setOption(option);
</script>
</body></html>
